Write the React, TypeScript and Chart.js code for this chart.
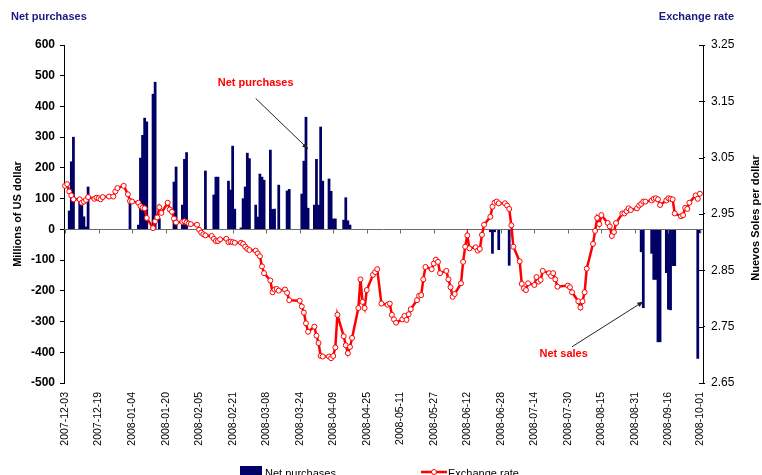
import { useEffect, useRef } from 'react';
import { Chart, registerables } from 'chart.js';

Chart.register(...registerables);

const FONT = '"Liberation Sans", Arial, Helvetica, sans-serif';

// Category axis: every calendar day shown on the date axis
const firstDay = '2007-12-03';
const lastDay = '2008-10-02';
const labeledDays = [
  '2007-12-03', '2007-12-19', '2008-01-04', '2008-01-20', '2008-02-05', '2008-02-21',
  '2008-03-08', '2008-03-24', '2008-04-09', '2008-04-25', '2008-05-11', '2008-05-27',
  '2008-06-12', '2008-06-28', '2008-07-14', '2008-07-30', '2008-08-15', '2008-08-31',
  '2008-09-16', '2008-10-01',
];

const leftTicks = [600, 500, 400, 300, 200, 100, 0, -100, -200, -300, -400, -500];
const rightTicks = [3.25, 3.15, 3.05, 2.95, 2.85, 2.75, 2.65];

// Net purchases (+) / net sales (-), millions of US dollars
const purchaseDates = [
  '2007-12-05', '2007-12-06', '2007-12-07', '2007-12-10', '2007-12-11', '2007-12-12', '2007-12-13', '2007-12-14',
  '2008-01-03', '2008-01-07', '2008-01-08', '2008-01-09', '2008-01-10', '2008-01-11', '2008-01-14', '2008-01-15',
  '2008-01-17', '2008-01-24', '2008-01-25', '2008-01-28', '2008-01-29', '2008-01-30', '2008-02-08', '2008-02-12',
  '2008-02-13', '2008-02-14', '2008-02-19', '2008-02-20', '2008-02-21', '2008-02-22', '2008-02-25', '2008-02-26',
  '2008-02-27', '2008-02-28', '2008-02-29', '2008-03-03', '2008-03-04', '2008-03-05', '2008-03-06', '2008-03-07',
  '2008-03-10', '2008-03-11', '2008-03-12', '2008-03-14', '2008-03-18', '2008-03-19', '2008-03-25', '2008-03-26',
  '2008-03-27', '2008-03-28', '2008-03-31', '2008-04-01', '2008-04-02', '2008-04-03', '2008-04-04', '2008-04-07',
  '2008-04-08', '2008-04-09', '2008-04-10', '2008-04-14', '2008-04-15', '2008-04-16', '2008-04-17',
  '2008-06-23', '2008-06-24', '2008-06-25', '2008-06-27', '2008-07-02',
  '2008-09-03', '2008-09-04', '2008-09-08', '2008-09-09', '2008-09-10', '2008-09-11', '2008-09-12',
  '2008-09-15', '2008-09-16', '2008-09-17', '2008-09-18', '2008-09-19', '2008-09-30', '2008-10-01',
];
const purchaseValues = [
  60, 220, 300, 100, 90, 41, 8, 138,
  95, 14, 232, 306, 362, 350, 440, 479,
  35, 154, 203, 79, 228, 250, 190, 112,
  170, 170, 157, 128, 271, 66, 5, 100,
  138, 248, 230, 79, 40, 180, 170, 160,
  258, 65, 66, 144, 125, 130, 115, 222,
  365, 69, 79, 228, 79, 333, 157, 164,
  124, 34, 34, 30, 103, 28, 14,
  -8, -78, -8, -66, -117,
  -73, -255, -78, -163, -163, -366, -366,
  -141, -260, -262, -118, -118, -420, -11,
];

// Exchange rate, nuevos soles per dollar
const rateDates = [
  '2007-12-03', '2007-12-04', '2007-12-05', '2007-12-06', '2007-12-07', '2007-12-10', '2007-12-11', '2007-12-12',
  '2007-12-13', '2007-12-14', '2007-12-17', '2007-12-18', '2007-12-19', '2007-12-20', '2007-12-21', '2007-12-24',
  '2007-12-26', '2007-12-27', '2007-12-28', '2007-12-31',
  '2008-01-02', '2008-01-03', '2008-01-04', '2008-01-07', '2008-01-08', '2008-01-09', '2008-01-10', '2008-01-11',
  '2008-01-14', '2008-01-15', '2008-01-16', '2008-01-17', '2008-01-18', '2008-01-21', '2008-01-22', '2008-01-23',
  '2008-01-24', '2008-01-25', '2008-01-28', '2008-01-29', '2008-01-30', '2008-01-31',
  '2008-02-01', '2008-02-04', '2008-02-05', '2008-02-06', '2008-02-07', '2008-02-08', '2008-02-11', '2008-02-12',
  '2008-02-13', '2008-02-14', '2008-02-15', '2008-02-18', '2008-02-19', '2008-02-20', '2008-02-21', '2008-02-22',
  '2008-02-25', '2008-02-26', '2008-02-27', '2008-02-28', '2008-02-29',
  '2008-03-03', '2008-03-04', '2008-03-05', '2008-03-06', '2008-03-07', '2008-03-10', '2008-03-11', '2008-03-12',
  '2008-03-13', '2008-03-14', '2008-03-17', '2008-03-18', '2008-03-19', '2008-03-24', '2008-03-25', '2008-03-26',
  '2008-03-27', '2008-03-28', '2008-03-31',
  '2008-04-01', '2008-04-02', '2008-04-03', '2008-04-04', '2008-04-07', '2008-04-08', '2008-04-09', '2008-04-10',
  '2008-04-11', '2008-04-14', '2008-04-15', '2008-04-16', '2008-04-17', '2008-04-18', '2008-04-21', '2008-04-22',
  '2008-04-23', '2008-04-24', '2008-04-25', '2008-04-28', '2008-04-29', '2008-04-30',
  '2008-05-02', '2008-05-05', '2008-05-06', '2008-05-07', '2008-05-08', '2008-05-09', '2008-05-12', '2008-05-13',
  '2008-05-14', '2008-05-15', '2008-05-16', '2008-05-19', '2008-05-20', '2008-05-21', '2008-05-22', '2008-05-23',
  '2008-05-26', '2008-05-27', '2008-05-28', '2008-05-29', '2008-05-30',
  '2008-06-02', '2008-06-03', '2008-06-04', '2008-06-05', '2008-06-06', '2008-06-09', '2008-06-10', '2008-06-11',
  '2008-06-12', '2008-06-13', '2008-06-16', '2008-06-17', '2008-06-18', '2008-06-19', '2008-06-20', '2008-06-23',
  '2008-06-24', '2008-06-25', '2008-06-26', '2008-06-27', '2008-06-30',
  '2008-07-01', '2008-07-02', '2008-07-03', '2008-07-04', '2008-07-07', '2008-07-08', '2008-07-09', '2008-07-10',
  '2008-07-11', '2008-07-14', '2008-07-15', '2008-07-16', '2008-07-17', '2008-07-18', '2008-07-21', '2008-07-22',
  '2008-07-23', '2008-07-24', '2008-07-25', '2008-07-30', '2008-07-31',
  '2008-08-01', '2008-08-04', '2008-08-05', '2008-08-06', '2008-08-07', '2008-08-08', '2008-08-11', '2008-08-12',
  '2008-08-13', '2008-08-14', '2008-08-15', '2008-08-18', '2008-08-19', '2008-08-20', '2008-08-21', '2008-08-22',
  '2008-08-25', '2008-08-26', '2008-08-27', '2008-08-28', '2008-08-29',
  '2008-09-01', '2008-09-02', '2008-09-03', '2008-09-04', '2008-09-05', '2008-09-08', '2008-09-09', '2008-09-10',
  '2008-09-11', '2008-09-12', '2008-09-15', '2008-09-16', '2008-09-17', '2008-09-18', '2008-09-19', '2008-09-22',
  '2008-09-23', '2008-09-24', '2008-09-25', '2008-09-26', '2008-09-29', '2008-09-30', '2008-10-01',
];
const rateValues = [
  3.000, 3.003, 2.990, 2.983, 2.976, 2.976, 2.970, 2.972,
  2.975, 2.980, 2.977, 2.979, 2.978, 2.976, 2.980, 2.981,
  2.981, 2.990, 2.996, 3.000,
  2.985, 2.973, 2.972, 2.970, 2.964, 2.961, 2.960, 2.943,
  2.925, 2.937, 2.944, 2.962, 2.952, 2.970, 2.958, 2.954,
  2.942, 2.935, 2.936, 2.937, 2.935, 2.933,
  2.932, 2.931, 2.922, 2.917, 2.914, 2.912, 2.911, 2.906,
  2.902, 2.902, 2.905, 2.906, 2.900, 2.901, 2.900, 2.899,
  2.899, 2.897, 2.892, 2.888, 2.886,
  2.885, 2.880, 2.875, 2.857, 2.845, 2.832, 2.811, 2.816,
  2.817, 2.814, 2.816, 2.810, 2.797, 2.796, 2.786, 2.775,
  2.756, 2.741, 2.750,
  2.734, 2.721, 2.698, 2.697, 2.697, 2.694, 2.698, 2.713,
  2.771, 2.733, 2.717, 2.703, 2.714, 2.730, 2.783, 2.834,
  2.794, 2.783, 2.815, 2.842, 2.847, 2.852,
  2.791, 2.789, 2.791, 2.771, 2.763, 2.757, 2.763, 2.769,
  2.762, 2.772, 2.781, 2.797, 2.805, 2.806, 2.834, 2.856,
  2.852, 2.862, 2.869, 2.865, 2.845,
  2.849, 2.834, 2.820, 2.803, 2.808, 2.827, 2.865, 2.892,
  2.912, 2.889, 2.891, 2.885, 2.888, 2.913, 2.931, 2.945,
  2.963, 2.970, 2.972, 2.969, 2.969,
  2.965, 2.959, 2.930, 2.892, 2.866, 2.826, 2.818, 2.815,
  2.827, 2.824, 2.838, 2.830, 2.833, 2.849, 2.845, 2.840,
  2.845, 2.834, 2.821, 2.823, 2.820,
  2.811, 2.795, 2.784, 2.795, 2.811, 2.853, 2.897, 2.920,
  2.943, 2.932, 2.948, 2.934, 2.928, 2.911, 2.918, 2.934,
  2.951, 2.951, 2.955, 2.960, 2.957,
  2.960, 2.965, 2.968, 2.972, 2.972, 2.974, 2.977, 2.978,
  2.976, 2.966, 2.974, 2.978, 2.977, 2.976, 2.951, 2.946,
  2.948, 2.961, 2.959, 2.970, 2.983, 2.977, 2.986,
];

// Callouts anchored in data coordinates
const purchaseNote = { text: 'Net purchases', date: '2008-03-03', value: 475 };
const purchaseArrow = { from: ['2008-03-03', 426], to: ['2008-03-28', 262] };
const salesNote = { text: 'Net sales', date: '2008-07-28', value: -405 };
const salesArrow = { from: ['2008-08-01', -382], to: ['2008-09-04', -235] };

function buildDays(start: string, end: string): string[] {
  const out: string[] = [];
  let t = Date.parse(start + 'T00:00:00Z');
  const e = Date.parse(end + 'T00:00:00Z');
  while (t <= e) {
    out.push(new Date(t).toISOString().slice(0, 10));
    t += 86400000;
  }
  return out;
}

const NAVY = '#000066';
const RED = '#ff0000';
const TITLE_BLUE = '#1a1a80';

export default function App() {
  const canvasRef = useRef<HTMLCanvasElement | null>(null);

  useEffect(() => {
    document.body.style.margin = '0';
    const canvas = canvasRef.current;
    if (!canvas) return;
    const days = buildDays(firstDay, lastDay);
    const labeledIdx = new Set(labeledDays.map((d) => days.indexOf(d)));

    const drawArrow = (ctx: CanvasRenderingContext2D, x1: number, y1: number, x2: number, y2: number) => {
      ctx.save();
      ctx.strokeStyle = '#222222';
      ctx.fillStyle = '#222222';
      ctx.lineWidth = 1;
      ctx.beginPath();
      ctx.moveTo(x1, y1);
      ctx.lineTo(x2, y2);
      ctx.stroke();
      const ang = Math.atan2(y2 - y1, x2 - x1);
      const L = 6;
      const W = 2.5;
      ctx.beginPath();
      ctx.moveTo(x2, y2);
      ctx.lineTo(x2 - L * Math.cos(ang) + W * Math.sin(ang), y2 - L * Math.sin(ang) - W * Math.cos(ang));
      ctx.lineTo(x2 - L * Math.cos(ang) - W * Math.sin(ang), y2 - L * Math.sin(ang) + W * Math.cos(ang));
      ctx.closePath();
      ctx.fill();
      ctx.restore();
    };

    const decor = {
      id: 'decor',
      afterDatasetDraw(chart: any, args: any) {
        if (args.index !== 0) return;
        const { ctx, chartArea, scales } = chart;
        const y0 = Math.round(scales.y.getPixelForValue(0)) + 0.5;
        ctx.save();
        ctx.strokeStyle = '#6a6a6a';
        ctx.lineWidth = 1;
        ctx.beginPath();
        ctx.moveTo(chartArea.left, y0);
        ctx.lineTo(chartArea.right, y0);
        labeledIdx.forEach((i) => {
          const x = Math.round(scales.x.getPixelForValue(i)) + 0.5;
          ctx.moveTo(x, y0);
          ctx.lineTo(x, y0 + 4);
        });
        ctx.stroke();
        ctx.restore();
      },
      afterDraw(chart: any) {
        const { ctx, scales, chartArea } = chart;
        const px = (d: string) => scales.x.getPixelForValue(days.indexOf(d));
        const py = (v: number) => scales.y.getPixelForValue(v);
        ctx.save();
        // inner half of the right axis tick marks
        ctx.strokeStyle = '#000000';
        ctx.lineWidth = 1;
        ctx.beginPath();
        rightTicks.forEach((v) => {
          const y = Math.round(scales.y1.getPixelForValue(v)) + 0.5;
          ctx.moveTo(chartArea.right - 4, y);
          ctx.lineTo(chartArea.right, y);
        });
        ctx.stroke();
        // corner titles
        ctx.font = `bold 11px ${FONT}`;
        ctx.fillStyle = TITLE_BLUE;
        ctx.textBaseline = 'middle';
        ctx.textAlign = 'left';
        ctx.fillText('Net purchases', 11, 17);
        ctx.textAlign = 'right';
        ctx.fillText('Exchange rate', 734, 17);
        // axis titles
        ctx.fillStyle = '#000000';
        ctx.textAlign = 'center';
        ctx.save();
        ctx.translate(18, (chartArea.top + chartArea.bottom) / 2);
        ctx.rotate(-Math.PI / 2);
        ctx.fillText('Millions of US dollar', 0, 0);
        ctx.restore();
        ctx.save();
        ctx.translate(756, (chartArea.top + chartArea.bottom) / 2 + 4);
        ctx.rotate(-Math.PI / 2);
        ctx.fillText('Nuevos Soles per dollar', 0, 0);
        ctx.restore();
        // callouts
        ctx.fillStyle = RED;
        ctx.font = `bold 11px ${FONT}`;
        ctx.fillText(purchaseNote.text, px(purchaseNote.date), py(purchaseNote.value));
        ctx.fillText(salesNote.text, px(salesNote.date), py(salesNote.value));
        drawArrow(ctx, px(purchaseArrow.from[0] as string), py(purchaseArrow.from[1] as number),
          px(purchaseArrow.to[0] as string), py(purchaseArrow.to[1] as number));
        drawArrow(ctx, px(salesArrow.from[0] as string), py(salesArrow.from[1] as number),
          px(salesArrow.to[0] as string), py(salesArrow.to[1] as number));
        // legend
        const ly = 471;
        ctx.fillStyle = NAVY;
        ctx.fillRect(240, 466, 22, 12);
        ctx.fillStyle = '#000000';
        ctx.font = `11px ${FONT}`;
        ctx.textAlign = 'left';
        ctx.textBaseline = 'alphabetic';
        ctx.fillText('Net purchases', 265, 477);
        ctx.strokeStyle = RED;
        ctx.lineWidth = 2.5;
        ctx.beginPath();
        ctx.moveTo(421, ly + 1);
        ctx.lineTo(447, ly + 1);
        ctx.stroke();
        ctx.beginPath();
        ctx.arc(434, ly + 1, 2.5, 0, Math.PI * 2);
        ctx.fillStyle = '#ffffff';
        ctx.fill();
        ctx.lineWidth = 1;
        ctx.stroke();
        ctx.fillStyle = '#000000';
        ctx.fillText('Exchange rate', 448, 477);
        ctx.restore();
      },
    };

    const chart = new Chart(canvas, {
      type: 'bar',
      data: {
        labels: days,
        datasets: [
          {
            type: 'bar',
            label: 'Net purchases',
            data: purchaseDates.map((d, i) => ({ x: d, y: purchaseValues[i] })) as any,
            backgroundColor: NAVY,
            borderWidth: 0,
            barPercentage: 1,
            categoryPercentage: 1,
            yAxisID: 'y',
            order: 1,
          },
          {
            type: 'line',
            label: 'Exchange rate',
            data: rateDates.map((d, i) => ({ x: d, y: rateValues[i] })) as any,
            borderColor: RED,
            borderWidth: 2.5,
            pointRadius: 2.5,
            pointBorderWidth: 1,
            pointBackgroundColor: '#ffffff',
            pointBorderColor: RED,
            tension: 0,
            yAxisID: 'y1',
            order: 0,
          },
        ],
      },
      options: {
        responsive: false,
        animation: false,
        devicePixelRatio: 1,
        layout: { padding: { top: 45, left: 0, right: 0, bottom: 0 } },
        plugins: { legend: { display: false }, tooltip: { enabled: false } },
        scales: {
          x: {
            type: 'category',
            position: 'bottom',
            offset: true,
            grid: { display: false, drawTicks: false },
            border: { display: false },
            ticks: {
              autoSkip: false,
              maxRotation: 90,
              minRotation: 90,
              padding: 9,
              color: '#000000',
              font: { family: FONT, size: 10.5 },
              callback: (_v: any, i: number) => (labeledIdx.has(i) ? days[i] : ''),
            },
            afterFit: (s: any) => { s.height = 92; },
          },
          y: {
            type: 'linear',
            position: 'left',
            min: -500,
            max: 600,
            grid: { drawOnChartArea: false, drawTicks: true, tickLength: 4, color: '#000000' },
            border: { display: true, color: '#000000' },
            ticks: {
              color: '#000000',
              padding: 5,
              font: { family: FONT, size: 12, weight: 'bold' },
              callback: (v: any) => String(v),
            },
            afterBuildTicks: (s: any) => { s.ticks = leftTicks.map((v) => ({ value: v })); },
            afterFit: (s: any) => { s.width = 64; },
          },
          y1: {
            type: 'linear',
            position: 'right',
            min: 2.65,
            max: 3.25,
            grid: { drawOnChartArea: false, drawTicks: true, tickLength: 2, color: '#000000' },
            border: { display: true, color: '#000000' },
            ticks: {
              color: '#000000',
              padding: 6,
              font: { family: FONT, size: 12 },
              callback: (v: any) => Number(v).toFixed(2),
            },
            afterBuildTicks: (s: any) => { s.ticks = rightTicks.map((v) => ({ value: v })); },
            afterFit: (s: any) => { s.width = 59; },
          },
        },
      },
      plugins: [decor],
    });
    return () => chart.destroy();
  }, []);

  return (
    <div style={{ position: 'absolute', left: 0, top: 0, width: 762, height: 475 }}>
      <canvas ref={canvasRef} width={762} height={475} style={{ display: 'block' }} />
    </div>
  );
}
